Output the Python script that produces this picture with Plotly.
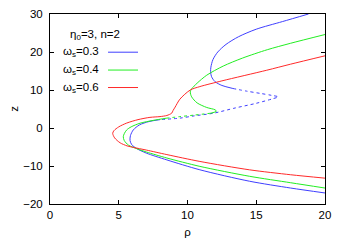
import plotly.graph_objects as go

# omega_s = 0.3 (blue)
b_up_rho = [18.8, 16.9, 15.0, 13.7, 12.8, 12.2, 11.85, 11.7, 11.68, 11.75, 12.0, 12.5, 13.3]
b_up_z = [30.0, 28.0, 26.0, 24.0, 22.0, 20.0, 18.0, 16.0, 14.8, 13.5, 12.2, 11.2, 10.4]
b_da_rho = [13.3, 14.3, 15.3, 16.1, 16.6, 16.2, 15.0, 13.5, 11.9, 10.5, 9.45, 8.0]
b_da_z = [10.4, 9.7, 9.1, 8.6, 8.2, 7.7, 6.5, 5.3, 3.9, 3.2, 2.6, 2.2]
b_lo_rho = [8.0, 7.2, 6.5, 6.06, 5.85, 5.82, 5.95, 6.3, 7.0, 8.5, 10.9, 14.5, 17.5, 20]
b_lo_z = [2.2, 1.7, 0.8, -0.5, -2.0, -3.3, -4.4, -5.4, -6.6, -8.4, -11.0, -14.0, -15.8, -17.1]

# omega_s = 0.4 (green)
g_up_rho = [20, 17.5, 15.8, 14.0, 12.6, 11.4, 10.7, 10.3, 10.2, 10.3, 10.7, 11.4, 12.0, 12.1, 11.7]
g_up_z = [24.6, 22.3, 20.6, 18.4, 16.3, 13.9, 11.8, 10.3, 9.5, 8.2, 6.6, 5.4, 4.8, 4.4, 3.9]
g_da_rho = [11.7, 10.5, 9.45, 8.5]
g_da_z = [3.9, 3.4, 3.0, 2.6]
g_lo_rho = [8.5, 7.5, 6.55, 5.9, 5.58, 5.4, 5.33, 5.4, 5.7, 6.06, 7.0, 8.5, 10.9, 14.5, 17.5, 20]
g_lo_z = [2.6, 2.0, 1.26, 0.3, -0.5, -1.5, -2.3, -3.3, -4.5, -5.1, -6.3, -7.9, -10.1, -12.7, -14.4, -15.8]

# omega_s = 0.6 (red)
r_rho = [20, 17.5, 15.76, 12.5, 10.9, 10.2, 9.45, 9.1, 8.95, 8.85, 8.5, 8.0, 7.27, 6.4, 5.58, 5.0,
         4.65, 4.56, 4.7, 5.1, 5.6, 6.06, 7.0, 8.5, 10.9, 14.5, 17.5, 20]
r_z = [19.0, 16.8, 15.2, 12.4, 10.9, 10.0, 7.6, 5.5, 4.6, 3.9, 3.3, 3.0, 2.8, 2.2, 1.3, 0.3,
       -0.7, -1.4, -2.6, -3.9, -4.7, -5.1, -5.8, -7.0, -8.8, -11.0, -12.3, -13.2]

x_ticks = [0, 5, 10, 15, 20]
y_ticks = [-20, -10, 0, 10, 20, 30]
legend_title = "η<sub>0</sub>=3, n=2"
legend_labels = ["ω<sub>s</sub>=0.3", "ω<sub>s</sub>=0.4", "ω<sub>s</sub>=0.6"]

BLUE = "#3f3fff"
GREEN = "#22ee22"
RED = "#ff2a2a"
W = 1

fig = go.Figure()
def add(x, y, c, dash="solid"):
    fig.add_trace(go.Scatter(x=x, y=y, mode="lines",
                             line=dict(color=c, width=W, dash=dash, shape="spline", smoothing=0.8),
                             showlegend=False, hoverinfo="skip"))

add(b_up_rho, b_up_z, BLUE)
add(b_da_rho, b_da_z, BLUE, "3px,3px")
add(b_lo_rho, b_lo_z, BLUE)
add(g_up_rho, g_up_z, GREEN)
add(g_da_rho, g_da_z, GREEN, "3px,3px")
add(g_lo_rho, g_lo_z, GREEN)
add(r_rho, r_z, RED)

font = dict(family="Liberation Sans, Arial, sans-serif", size=11.5, color="black")

axis_common = dict(showgrid=False, zeroline=False, showline=True, linecolor="black", linewidth=1,
                   ticks="inside", ticklen=4, tickcolor="black", mirror="allticks", tickfont=font,
                   automargin=False)

# the page body adds an 8px offset, so the figure is sized to fit the window
fig.update_layout(
    width=338, height=234,
    margin=dict(l=42, r=21, t=6, b=38),
    paper_bgcolor="white", plot_bgcolor="white",
    font=font,
    xaxis=dict(range=[0, 20], tickvals=x_ticks, title=dict(text="ρ", font=font, standoff=8), **axis_common),
    yaxis=dict(range=[-20, 30], tickvals=y_ticks, ticklabelstandoff=4,
               title=dict(text="z", font=font, standoff=14), **axis_common),
)

# legend (gnuplot-style: text then sample line)
fig.add_annotation(xref="paper", yref="paper", x=0.165, y=0.888, text=legend_title, showarrow=False,
                   xanchor="center", yanchor="middle", font=font)
ys = [0.799, 0.705, 0.613]
for lab, c, yy in zip(legend_labels, [BLUE, GREEN, RED], ys):
    fig.add_annotation(xref="paper", yref="paper", x=0.185, y=yy, text=lab, showarrow=False,
                       xanchor="right", yanchor="middle", font=font)
    fig.add_shape(type="line", xref="paper", yref="paper", x0=0.211, x1=0.32, y0=yy, y1=yy,
                  line=dict(color=c, width=W))

fig.write_html("out.html")
